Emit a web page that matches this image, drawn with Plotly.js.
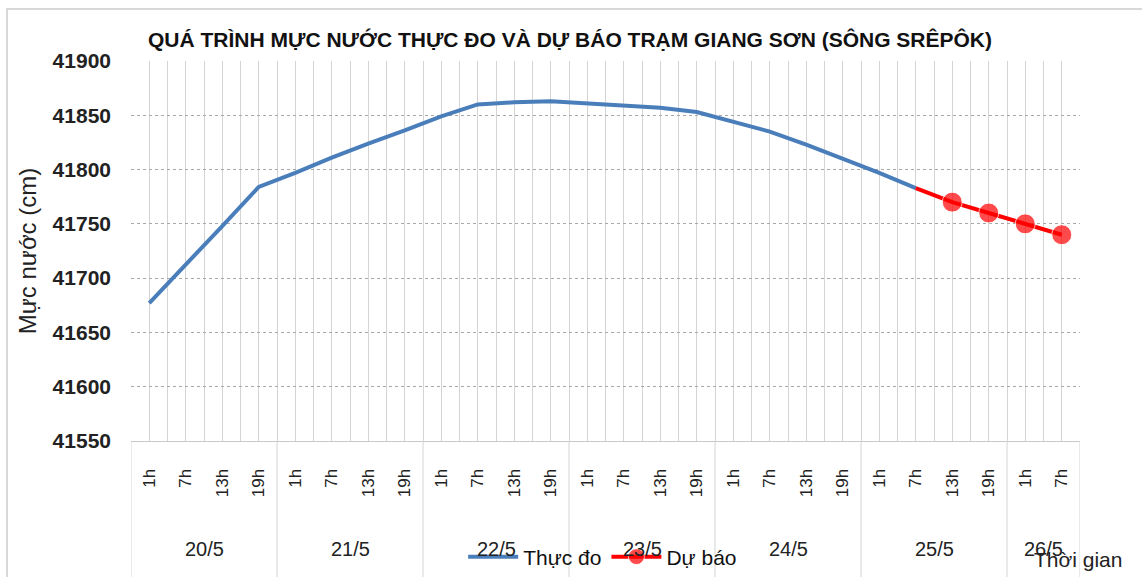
<!DOCTYPE html>
<html>
<head>
<meta charset="utf-8">
<script src="https://cdn.plot.ly/plotly-3.0.1.min.js"></script>
<style>html,body{margin:0;padding:0;background:#fff;}#chart{width:1142px;height:577px;}</style>
</head>
<body>
<div id="chart"></div>
<script>
// ---- data ----
const days = ['20/5', '21/5', '22/5', '23/5', '24/5', '25/5', '26/5'];
const hours = ['1h', '7h', '13h', '19h'];
const hoursPerDay = [4, 4, 4, 4, 4, 4, 2];
const observed = [41677, 41712, 41748, 41784, 41797, 41811, 41824, 41836, 41849, 41860, 41862,
                  41863, 41861, 41859, 41857, 41853, 41844, 41835, 41823, 41810, 41797, 41783];
const forecast = [41783, 41770, 41760, 41750, 41740];
const titleText = 'QUÁ TRÌNH MỰC NƯỚC THỰC ĐO VÀ DỰ BÁO TRẠM GIANG SƠN (SÔNG SRÊPÔK)';

// ---- build categories ----
const hourLabels = [];
const dayStart = [];
days.forEach((d, k) => {
  dayStart.push(hourLabels.length);
  for (let j = 0; j < hoursPerDay[k]; j++) hourLabels.push(hours[j]);
});
const idx = hourLabels.map((_, i) => i);
const n = hourLabels.length;
const obsX = idx.slice(0, observed.length);
const fcStart = observed.length - 1;
const fcX = idx.slice(fcStart, fcStart + forecast.length);
const fcSizes = forecast.map((_, i) => i === 0 ? 0 : 20);
const boundaries = [];
for (let i = 0; i <= n; i++) boundaries.push(i - 0.5);

const FONT = 'Liberation Sans, Arial, sans-serif';

const traces = [
  { x: obsX, y: observed, type: 'scatter', mode: 'lines', name: 'Thực đo',
    line: { color: '#4A7EBB', width: 4 } },
  { x: fcX, y: forecast, type: 'scatter', mode: 'lines+markers', name: 'Dự báo',
    line: { color: '#FF0000', width: 4 },
    marker: { color: '#FF0000', size: fcSizes } }
];

const annotations = days.map((d, k) => ({
  x: dayStart[k] + (hoursPerDay[k] - 1) / 2, xref: 'x',
  y: -0.284, yref: 'paper', text: d, showarrow: false,
  font: { family: FONT, size: 20, color: '#222' }, xanchor: 'center', yanchor: 'middle'
}));
annotations.push({
  x: 0.998, xref: 'paper', y: -0.313, yref: 'paper', text: 'Thời gian', showarrow: false,
  font: { family: FONT, size: 21, color: '#222' }, xanchor: 'center', yanchor: 'middle'
});

const shapes = [];
dayStart.concat([n]).forEach(s => {
  shapes.push({ type: 'line', xref: 'x', yref: 'paper', x0: s - 0.5, x1: s - 0.5, y0: 0, y1: -0.45,
    line: { color: '#d4d4d4', width: 1 } });
});
shapes.push({ type: 'rect', xref: 'paper', yref: 'paper', x0: -0.1307, x1: 1.2, y0: -0.6, y1: 1.137,
  line: { color: '#d8d8d8', width: 2 }, fillcolor: 'rgba(0,0,0,0)' });

const layout = {
  width: 1142, height: 577,
  margin: { l: 131, r: 62, t: 61, b: 136 },
  paper_bgcolor: '#ffffff', plot_bgcolor: '#ffffff',
  font: { family: FONT, color: '#222' },
  title: { text: titleText, font: { family: FONT, size: 21, weight: 'bold', color: '#111' },
    x: 0.4626, xref: 'paper', xanchor: 'center', y: 0.9307, yanchor: 'middle' },
  xaxis: {
    type: 'linear', range: [-0.5, n - 0.5], automargin: false,
    tickmode: 'array', tickvals: idx, ticktext: hourLabels, tickangle: -90,
    tickfont: { family: FONT, size: 17, color: '#222' }, ticks: '', ticklabelstandoff: 20,
    showgrid: true, gridcolor: '#d4d4d4', gridwidth: 1,
    minor: { tickmode: 'array', tickvals: boundaries, showgrid: true, gridcolor: '#d4d4d4', gridwidth: 1 },
    showline: true, linecolor: '#c8c8c8', linewidth: 1, zeroline: false, fixedrange: true
  },
  yaxis: {
    range: [41550, 41900], dtick: 50, tick0: 41550, tickformat: 'd', automargin: false,
    tickfont: { family: FONT, size: 21, weight: 'bold', color: '#222' }, ticks: '', ticklabelstandoff: 19,
    showgrid: true, gridcolor: '#a8a8a8', griddash: 'dot', gridwidth: 1, zeroline: false,
    title: { text: 'Mực nước (cm)', font: { family: FONT, size: 24, color: '#222' }, standoff: 9 },
    fixedrange: true
  },
  showlegend: true,
  legend: { orientation: 'h', x: 0.497, xanchor: 'center', yref: 'container', y: 0.0347, yanchor: 'middle',
    itemwidth: 50, bgcolor: 'rgba(0,0,0,0)', font: { family: FONT, size: 21, color: '#111' } },
  annotations: annotations,
  shapes: shapes
};

Plotly.newPlot('chart', traces, layout, { displayModeBar: false, staticPlot: true });
</script>
</body>
</html>
